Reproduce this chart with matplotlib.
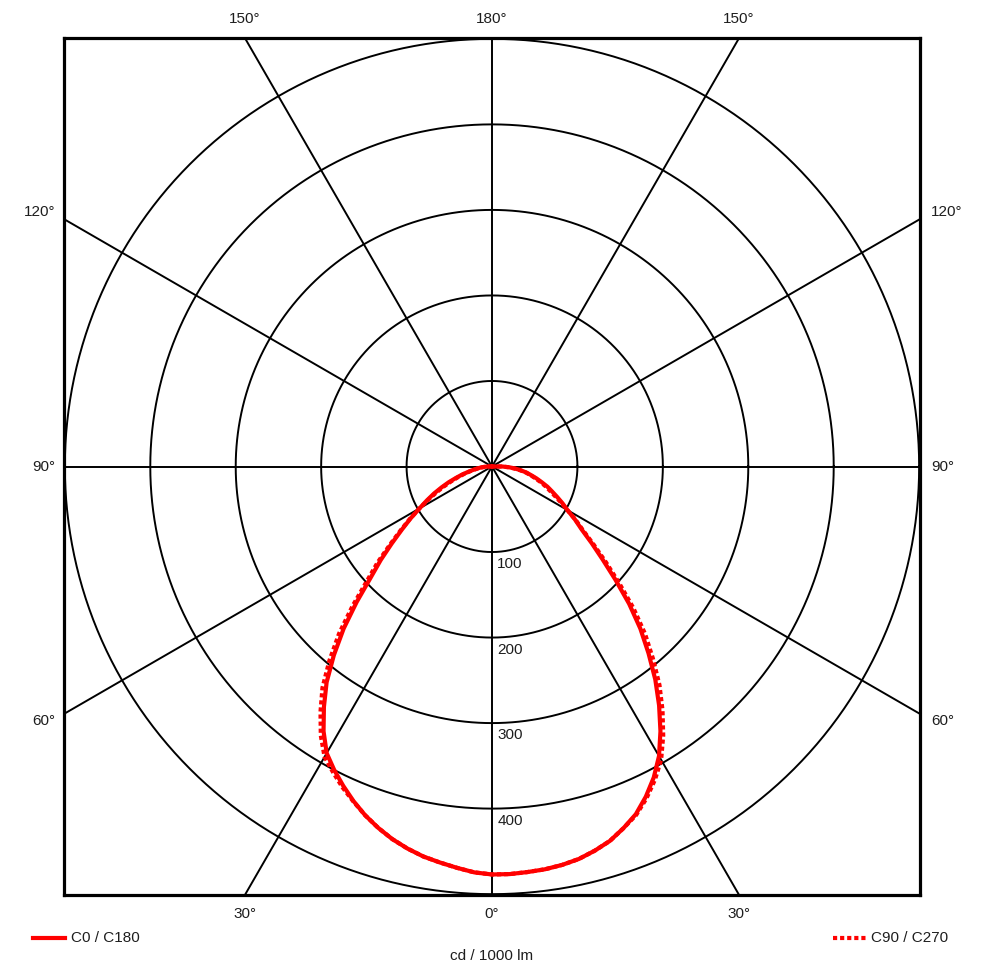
import numpy as np
import matplotlib.pyplot as plt

# luminous intensity in cd / 1000 lm, gamma angle measured from nadir (0 deg = down)
gamma = [0, 2.5, 5, 7.5, 10, 12.5, 15, 17.5, 20, 22.5, 25, 27.5, 30, 32.5, 35, 37.5, 40,
         42.5, 45, 47.5, 50, 52.5, 55, 57.5, 60, 62.5, 65, 67.5, 70, 72.5, 75, 77.5, 80,
         82.5, 85, 87.5, 90, 92.5]
c0 = [477, 475, 471, 467, 463, 457.5, 451, 443, 434, 423.5, 412, 400, 387, 367, 343, 318, 288,
      257, 224, 193, 170, 148, 129, 113, 98, 86, 75, 64, 54, 44, 36, 28, 22,
      17, 13, 9, 5, 0]
c180 = [477, 477, 476, 475, 473, 470, 465, 459, 450, 440, 426, 410, 391, 367, 341, 314, 285,
        257, 227, 196, 169, 147, 128, 115, 102, 93, 84, 76, 69, 61, 54, 47, 41,
        34, 27, 20, 12, 0]
c90 = [477, 475, 471, 467, 463, 457.5, 451, 443, 434, 424, 414, 403, 392, 373, 350, 326, 296,
       265, 231, 199, 175, 151, 131, 114, 98, 84, 72, 61, 51, 42, 34, 27, 21,
       16, 12, 8, 5, 0]
c270 = [477, 477, 476, 475, 473, 470, 465, 459, 450, 441, 428, 413, 396, 373, 348, 322, 293,
        265, 234, 202, 174, 150, 130, 116, 102, 91, 81, 73, 66, 59, 52, 46, 40,
        33, 26, 19, 11, 0]

rings = [100, 200, 300, 400, 500]
ring_labels = ["100", "200", "300", "400"]
spoke_angles = [0, 30, 60, 90, 120, 150]
r_max = 501

plt.rcParams['font.family'] = ['Liberation Sans', 'DejaVu Sans']
txt = '#1e1e1e'
fs = 11

fig = plt.figure(figsize=(9.87, 9.73), dpi=100)
ax = fig.add_axes([64 / 987, 78 / 973, 856 / 987, 857 / 973])
ax.set_xlim(-r_max, r_max)
ax.set_ylim(-r_max, r_max)
ax.set_xticks([])
ax.set_yticks([])
for s in ax.spines.values():
    s.set_linewidth(2.3)

# grid: rings and spokes
t = np.linspace(0, 2 * np.pi, 721)
for r in rings:
    ax.plot(r * np.cos(t), r * np.sin(t), color='black', lw=1.4, zorder=1)
for a in spoke_angles:
    rad = np.radians(a)
    L = 2 * r_max
    ax.plot([-L * np.sin(rad), L * np.sin(rad)], [-L * np.cos(rad), L * np.cos(rad)],
            color='black', lw=1.4, zorder=1)


def curve(left, right):
    g = np.radians(gamma)
    xl = -np.array(left) * np.sin(g)
    yl = -np.array(left) * np.cos(g)
    xr = np.array(right) * np.sin(g)
    yr = -np.array(right) * np.cos(g)
    return np.concatenate([xl[::-1], xr[1:]]), np.concatenate([yl[::-1], yr[1:]])


x, y = curve(c90, c270)
ax.plot(x, y, color='#ff0000', lw=3.0, ls=(0, (1.0, 0.7)), dash_capstyle='butt', zorder=3)
x, y = curve(c0, c180)
ax.plot(x, y, color='#ff0000', lw=3.0, solid_capstyle='round', solid_joinstyle='round', zorder=4)

# ring labels along the 0 deg axis
for r, lab in zip(rings, ring_labels):
    ax.text(6, -r - 6, lab, ha='left', va='top', fontsize=fs, color=txt)

# angle labels around the frame
off = 22
xe = r_max * np.tan(np.radians(30))
ax.text(0, r_max + off, "180°", ha='center', va='center', fontsize=fs, color=txt, clip_on=False)
ax.text(0, -r_max - off, "0°", ha='center', va='center', fontsize=fs, color=txt, clip_on=False)
for sgn in [-1, 1]:
    ax.text(sgn * xe, r_max + off, "150°", ha='center', va='center', fontsize=fs,
            color=txt, clip_on=False)
    ax.text(sgn * xe, -r_max - off, "30°", ha='center', va='center', fontsize=fs,
            color=txt, clip_on=False)
side_labels = ["120°", "90°", "60°"]
side_y = [298, 0, -298]
for lab, yy in zip(side_labels, side_y):
    ax.text(-r_max - 10, yy, lab, ha='right', va='center', fontsize=fs, color=txt, clip_on=False)
    ax.text(r_max + 13, yy, lab, ha='left', va='center', fontsize=fs, color=txt, clip_on=False)

# legend and unit
fig.lines.append(plt.Line2D([33 / 987, 65 / 987], [35 / 973, 35 / 973], color='#ff0000',
                            lw=3.0, transform=fig.transFigure))
fig.text(71 / 987, 35 / 973, "C0 / C180", ha='left', va='center', fontsize=fs, color=txt)
fig.lines.append(plt.Line2D([833 / 987, 866 / 987], [35 / 973, 35 / 973], color='#ff0000',
                            lw=3.0, ls=(0, (1.0, 0.7)), dash_capstyle='butt',
                            transform=fig.transFigure))
fig.text(871 / 987, 35 / 973, "C90 / C270", ha='left', va='center', fontsize=fs, color=txt)
fig.text(492 / 987, 17 / 973, "cd / 1000 lm", ha='center', va='center', fontsize=fs, color=txt)

fig.savefig('out.png', dpi=100, facecolor='white')
